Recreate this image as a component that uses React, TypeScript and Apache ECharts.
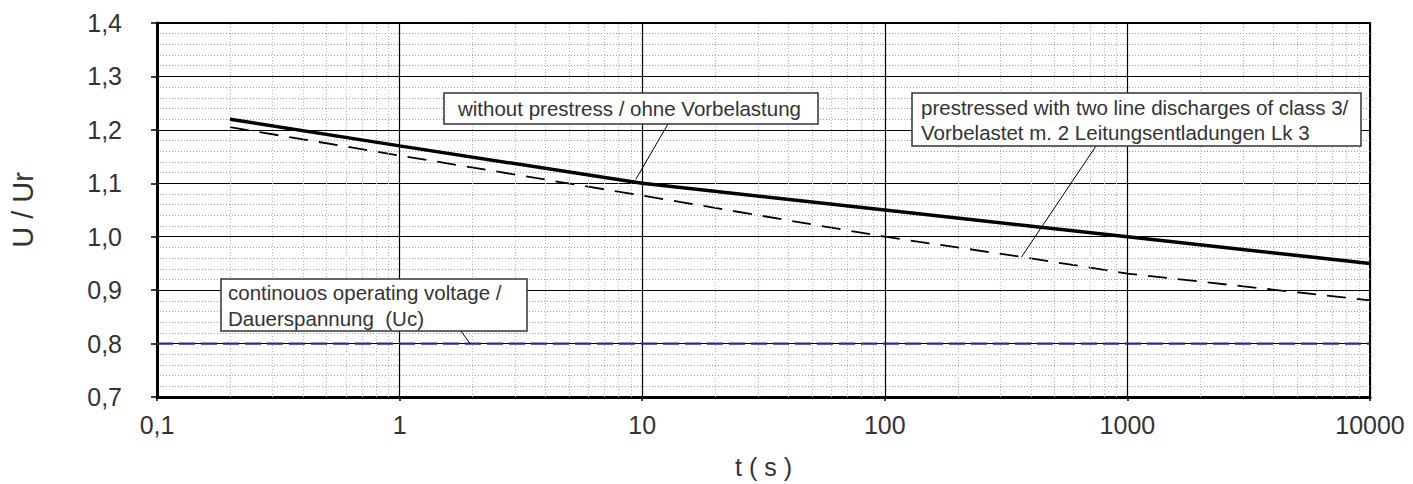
import React, { useEffect, useRef } from "react";
import * as echarts from "echarts";

// ---- data ----
const xTickLabels = ["0,1", "1", "10", "100", "1000", "10000"];
const yTickLabels = ["0,7", "0,8", "0,9", "1,0", "1,1", "1,2", "1,3", "1,4"];
const decades = [0.1, 1, 10, 100, 1000];
const minorMultipliers = [2, 3, 4, 5, 6, 7, 8, 9];

const tWithout = [0.2, 1, 10, 100, 1000, 10000];
const uWithout = [1.22, 1.17, 1.1, 1.05, 1.0, 0.95];

const tPrestressed = [0.2, 1, 10, 100, 370, 1000, 10000];
const uPrestressed = [1.205, 1.152, 1.077, 1.0, 0.962, 0.931, 0.881];

const tUc = [0.1, 10000];
const uUc = [0.8, 0.8];

const labelWithout = ["without prestress / ohne Vorbelastung"];
const labelPrestressed = [
  "prestressed with two line discharges of class 3/",
  "Vorbelastet m. 2 Leitungsentladungen Lk 3",
];
const labelUc = ["continouos operating voltage /", "Dauerspannung  (Uc)"];

// anchor points (data space) where the leader lines touch the curves
const tipWithout = [9.4, 1.107];
const tipPrestressed = [366, 0.962];
const tipUc = [1.95, 0.8];

const FONT = '"Liberation Sans", Arial, sans-serif';

export default function App() {
  const ref = useRef<HTMLDivElement>(null);
  useEffect(() => {
    if (!ref.current) return;
    const chart = echarts.init(ref.current, null, { renderer: "svg" });
    const minorX: number[] = [];
    decades.forEach((d) => minorMultipliers.forEach((m) => minorX.push(+(d * m).toPrecision(6))));

    const option: any = {
      animation: false,
      textStyle: { fontFamily: FONT },
      grid: {
        left: 157,
        right: 43,
        top: 23,
        bottom: 83,
        show: true,
        borderColor: "#000",
        borderWidth: 2,
        backgroundColor: "transparent",
      },
      xAxis: {
        type: "log",
        logBase: 10,
        min: 0.1,
        max: 10000,
        name: "t ( s )",
        nameLocation: "middle",
        nameGap: 57,
        nameTextStyle: { fontSize: 25, color: "#333", fontFamily: FONT },
        axisLine: { show: true, onZero: false, lineStyle: { color: "#000", width: 3 } },
        axisTick: { show: true, length: 4, lineStyle: { color: "#000", width: 1.5 } },
        axisLabel: {
          fontSize: 25,
          color: "#333",
          margin: 15,
          fontFamily: FONT,
          formatter: (_v: number, i: number) => xTickLabels[i] ?? "",
        },
        splitLine: { show: true, lineStyle: { color: "#000", width: 1.2 } },
        minorTick: { show: false },
        minorSplitLine: { show: false },
      },
      yAxis: {
        type: "value",
        min: 0.7,
        max: 1.4,
        interval: 0.1,
        name: "U / Ur",
        nameLocation: "middle",
        nameRotate: 90,
        nameGap: 120,
        nameTextStyle: { fontSize: 29, color: "#333", fontFamily: FONT },
        axisLine: { show: true, lineStyle: { color: "#000", width: 3 } },
        axisTick: { show: true, length: 6, lineStyle: { color: "#000", width: 1.5 } },
        axisLabel: {
          fontSize: 25,
          color: "#333",
          margin: 35,
          fontFamily: FONT,
          formatter: (_v: number, i: number) => yTickLabels[i] ?? "",
        },
        splitLine: { show: true, lineStyle: { color: "#000", width: 1.2 } },
        minorTick: { show: false, splitNumber: 5 },
        minorSplitLine: { show: true, lineStyle: { color: "#9a9a9a", width: 1, type: [1, 2] } },
      },
      series: [
        {
          type: "line",
          data: [],
          z: 1,
          silent: true,
          markLine: {
            silent: true,
            symbol: "none",
            label: { show: false },
            lineStyle: { color: "#b4b4e2", width: 1, type: [1, 2] },
            data: minorX.map((v) => ({ xAxis: v })),
          },
        },
        {
          name: "Uc",
          type: "line",
          data: tUc.map((t, i) => [t, uUc[i]]),
          showSymbol: false,
          z: 3,
          lineStyle: { color: "#2b2b90", width: 2.2, type: [16, 6] },
        },
        {
          name: "prestressed",
          type: "line",
          data: tPrestressed.map((t, i) => [t, uPrestressed[i]]),
          showSymbol: false,
          z: 4,
          lineStyle: { color: "#000", width: 1.8, type: [19, 11] },
        },
        {
          name: "without",
          type: "line",
          data: tWithout.map((t, i) => [t, uWithout[i]]),
          showSymbol: false,
          z: 5,
          lineStyle: { color: "#000", width: 3.5 },
        },
      ],
    };
    chart.setOption(option);

    const px = (p: number[]) => chart.convertToPixel({ gridIndex: 0 }, p) as number[];
    const p1 = px(tipWithout);
    const p2 = px(tipPrestressed);
    const p3 = px(tipUc);

    const box = (x: number, y: number, w: number, h: number) => ({
      type: "rect",
      z: 100,
      shape: { x, y, width: w, height: h },
      style: { fill: "#fff", stroke: "#333", lineWidth: 1.5 },
    });
    const txt = (s: string, x: number, y: number) => ({
      type: "text",
      z: 101,
      x,
      y,
      style: { text: s, fill: "#333", font: `20.5px ${FONT}`, align: "left", verticalAlign: "middle" },
    });
    const leader = (x1: number, y1: number, p: number[]) => ({
      type: "line",
      z: 99,
      shape: { x1, y1, x2: p[0], y2: p[1] },
      style: { stroke: "#000", lineWidth: 1 },
    });

    chart.setOption({
      graphic: [
        leader(668, 124, p1),
        box(444, 93, 374, 31),
        txt(labelWithout[0], 458, 108.5),
        leader(1096, 146, p2),
        box(912, 93, 449, 53),
        txt(labelPrestressed[0], 921, 107),
        txt(labelPrestressed[1], 921, 132),
        leader(461, 331, p3),
        box(221, 279, 306, 52),
        txt(labelUc[0], 228, 292.5),
        txt(labelUc[1], 228, 318.5),
      ],
    });

    return () => chart.dispose();
  }, []);
  return (
    <div
      ref={ref}
      style={{ position: "fixed", left: 0, top: 0, width: "1413px", height: "484px", background: "#fff" }}
    />
  );
}
